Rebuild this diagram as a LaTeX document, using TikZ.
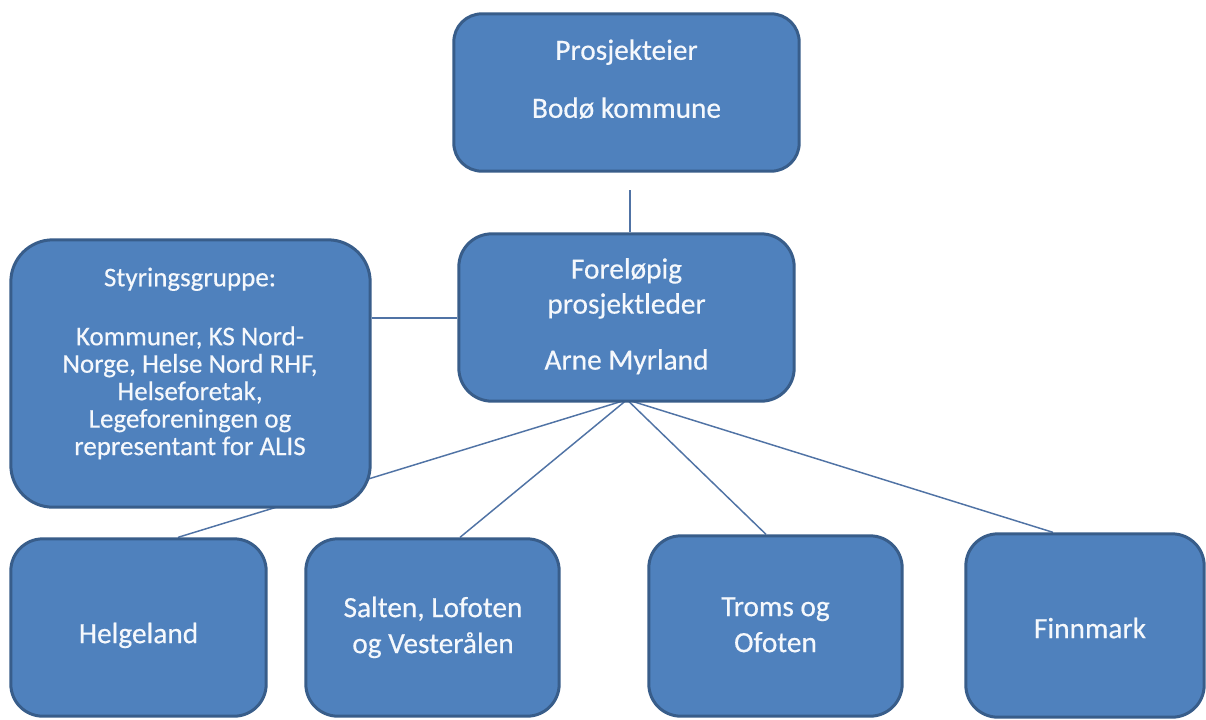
\documentclass[tikz,border=0pt]{standalone}
\usepackage{fontspec}
\setmainfont{Carlito}
\newfontfamily\boxfont{Carlito}[FakeBold=0.4]
\usetikzlibrary{backgrounds,calc}
\definecolor{boxfill}{RGB}{79,129,189}
\definecolor{boxline}{RGB}{56,93,138}
\definecolor{connline}{RGB}{80,115,165}
\definecolor{boxtextcol}{RGB}{245,248,252}
\newcommand{\strutA}{\rule{0pt}{16pt}}
\newcommand{\strutB}{\rule{0pt}{15pt}}
\begin{document}
\begin{tikzpicture}[x=0.75pt,y=-0.75pt,
  orgbox/.style={rectangle, draw=boxline, fill=boxfill, line width=2.25pt, inner sep=0pt},
  boxtext/.style={text=boxtextcol, align=center, anchor=north, inner sep=0pt, font=\boxfont\fontsize{22pt}{26.25pt}\selectfont},
  smalltext/.style={boxtext, font=\boxfont\fontsize{20.25pt}{20.6pt}\selectfont},
  lowtext/.style={boxtext, font=\boxfont\fontsize{22pt}{27pt}\selectfont},
  conn/.style={draw=connline, line width=1.1pt}]
\useasboundingbox (0,0) rectangle (1206,719);

% boxes
\node[orgbox, minimum width=259pt, minimum height=118pt, rounded corners=21pt] (P) at (626.5,92.5) {};
\node[orgbox, minimum width=251.5pt, minimum height=125.5pt, rounded corners=24.75pt] (L) at (626.5,317.5) {};
\node[orgbox, minimum width=269.5pt, minimum height=200.5pt, rounded corners=31.5pt] (S) at (190.5,373.5) {};
\node[orgbox, minimum width=191.5pt, minimum height=133pt, rounded corners=24pt] (H) at (138.5,627.5) {};
\node[orgbox, minimum width=190pt, minimum height=133pt, rounded corners=24pt] (SA) at (432.5,627.5) {};
\node[orgbox, minimum width=190pt, minimum height=135.25pt, rounded corners=24pt] (T) at (775.5,626) {};
\node[orgbox, minimum width=178.75pt, minimum height=137.5pt, rounded corners=24pt] (F) at (1085,625.5) {};

% texts
\node[boxtext] (Pt) at (626.5,38.2) {\strutA Prosjekteier\\[17.25pt]Bodø kommune};
\node[boxtext] (Lt) at (626.5,257) {\strutA Foreløpig\\prosjektleder\\[15.75pt]Arne Myrland};
\node[smalltext] (St) at (190,266) {\strutB Styringsgruppe:\\[23.6pt]Kommuner, KS Nord-\\Norge, Helse Nord RHF,\\Helseforetak,\\Legeforeningen og\\representant for ALIS};
\node[boxtext] (Ht) at (138.5,621.5) {\strutA Helgeland};
\node[lowtext] (SAt) at (433,595.5) {\strutA Salten, Lofoten\\og Vesterålen};
\node[lowtext] (Tt) at (775.5,594.5) {\strutA Troms og\\Ofoten};
\node[boxtext] (Ft) at (1090,616.5) {\strutA Finnmark};

% connectors behind the boxes
\begin{scope}[on background layer]
\fill[white] (0,0) rectangle (1206,719);
\coordinate (pv) at (630,190);
\draw[conn] (pv) -- (pv |- L.north);
\coordinate (slc) at (0,318);
\draw[conn] (S.east |- slc) -- (L.west |- slc);
\coordinate (hub) at ($(L.south)+(0.5,-3)$);
\draw[conn] (hub) -- ($(H.north)+(39.5,0)$);
\draw[conn] (hub) -- ($(SA.north)+(27.5,0)$);
\draw[conn] (hub) -- ($(T.north)+(-9.5,0)$);
\draw[conn] (hub) -- ($(F.north)+(-32,0)$);
\end{scope}
\end{tikzpicture}
\end{document}
